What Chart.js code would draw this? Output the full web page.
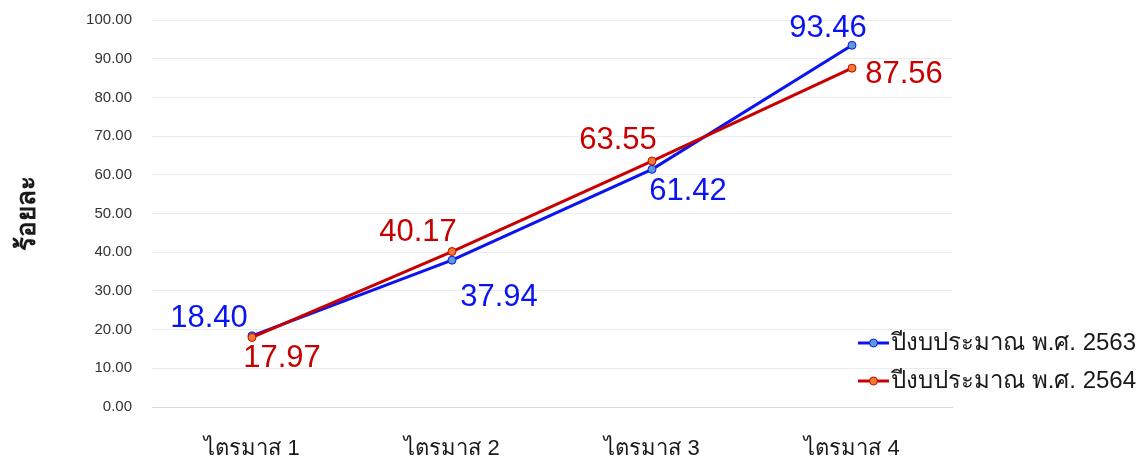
<!DOCTYPE html>
<html>
<head>
<meta charset="utf-8">
<script src="https://cdn.jsdelivr.net/npm/chart.js@4/dist/chart.umd.min.js"></script>
<style>
  html, body { margin: 0; padding: 0; background: #fff; }
  #wrap { width: 1141px; height: 464px; position: relative; }
</style>
</head>
<body>
<div id="wrap"><canvas id="c"></canvas></div>
<script>
  // ข้อมูลกราฟ
  const quarters = ['ไตรมาส 1', 'ไตรมาส 2', 'ไตรมาส 3', 'ไตรมาส 4'];
  const budget2563 = [18.40, 37.94, 61.42, 93.46];
  const budget2564 = [17.97, 40.17, 63.55, 87.56];
  const seriesNames = ['ปีงบประมาณ พ.ศ. 2563', 'ปีงบประมาณ พ.ศ. 2564'];
  const yTitle = 'ร้อยละ';

  // ตำแหน่งป้ายตัวเลข (เลื่อนจากจุด)
  const labelShift = [
    [[-43, -17], [47, 37], [36, 22], [-24, -17]],
    [[30, 21], [-34, -19], [-34, -21], [52, 6]]
  ];

  const FONT = '"Liberation Sans", "DejaVu Sans", sans-serif';

  const valueLabels = {
    id: 'valueLabels',
    afterDatasetsDraw(chart) {
      const ctx = chart.ctx;
      ctx.save();
      ctx.font = '31px ' + FONT;
      ctx.textAlign = 'center';
      ctx.textBaseline = 'middle';
      chart.data.datasets.forEach((ds, i) => {
        const meta = chart.getDatasetMeta(i);
        ctx.fillStyle = ds.labelColor;
        meta.data.forEach((pt, j) => {
          const s = labelShift[i][j];
          ctx.fillText(ds.data[j].toFixed(2), pt.x + s[0], pt.y + s[1]);
        });
      });
      ctx.restore();
    }
  };

  // legend วาดเองทับพื้นที่กราฟด้านขวา
  const sideLegend = {
    id: 'sideLegend',
    afterDraw(chart) {
      const ctx = chart.ctx;
      ctx.save();
      chart.data.datasets.forEach((ds, i) => {
        const y = 343 + i * 38;
        ctx.strokeStyle = ds.borderColor;
        ctx.lineWidth = 3;
        ctx.beginPath();
        ctx.moveTo(858, y);
        ctx.lineTo(889, y);
        ctx.stroke();
        ctx.beginPath();
        ctx.arc(873.5, y, 4, 0, Math.PI * 2);
        ctx.fillStyle = ds.pointBackgroundColor;
        ctx.fill();
        ctx.lineWidth = 1;
        ctx.stroke();
        ctx.fillStyle = '#1a1a1a';
        ctx.font = '24px ' + FONT;
        ctx.textBaseline = 'middle';
        ctx.fillText(ds.label, 891, y);
      });
      ctx.restore();
    }
  };

  new Chart(document.getElementById('c'), {
    type: 'line',
    data: {
      labels: quarters,
      datasets: [{
        label: seriesNames[0],
        data: budget2563,
        borderColor: '#0a14f0',
        labelColor: '#0a14f0',
        pointBackgroundColor: '#5b9bd5',
        pointBorderColor: '#0a14f0',
        borderWidth: 3,
        pointRadius: 4,
        pointBorderWidth: 1,
        order: 1
      }, {
        label: seriesNames[1],
        data: budget2564,
        borderColor: '#c80000',
        labelColor: '#c80000',
        pointBackgroundColor: '#ed7d31',
        pointBorderColor: '#c80000',
        borderWidth: 3,
        pointRadius: 4,
        pointBorderWidth: 1,
        order: 0
      }]
    },
    options: {
      responsive: true,
      maintainAspectRatio: false,
      animation: false,
      layout: { padding: { top: 5, right: 189, bottom: 0, left: 0 } },
      plugins: { legend: { display: false }, tooltip: { enabled: false } },
      scales: {
        x: {
          offset: true,
          grid: { display: false, drawTicks: false },
          border: { color: '#d9d9d9', width: 1 },
          ticks: { color: '#1a1a1a', font: { family: FONT, size: 22 }, padding: 29 },
          afterFit(scale) { scale.height = 57; }
        },
        y: {
          min: 0,
          max: 100,
          ticks: {
            stepSize: 10,
            color: '#333',
            padding: 20,
            font: { family: FONT, size: 15 },
            callback: v => Number(v).toFixed(2)
          },
          grid: { color: '#ebebeb', drawTicks: false },
          border: { display: false },
          title: {
            display: true,
            text: yTitle,
            color: '#1a1a1a',
            font: { family: FONT, size: 26, weight: 'bold' },
            padding: { top: 12, bottom: 0 }
          },
          afterFit(scale) { scale.width = 152; scale.paddingTop = 20; }
        }
      }
    },
    plugins: [valueLabels, sideLegend]
  });
</script>
</body>
</html>
